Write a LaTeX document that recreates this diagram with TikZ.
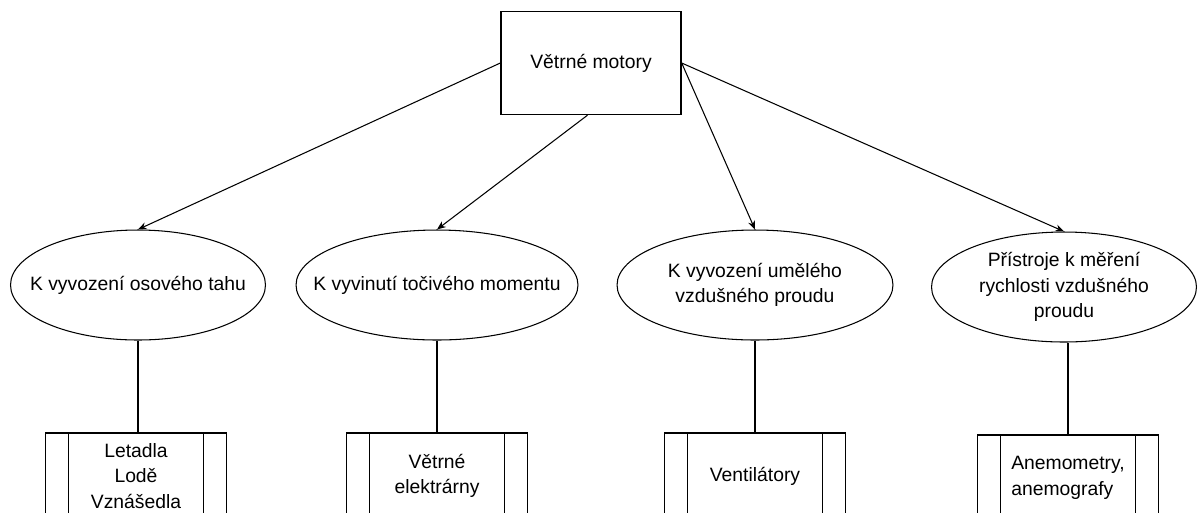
\documentclass[tikz,border=0pt]{standalone}
\usepackage{fontspec}
\setmainfont{Liberation Sans}
\usetikzlibrary{arrows.meta,shapes.geometric}

\begin{document}
\begin{tikzpicture}[
  x=0.02cm, y=-0.02cm,
  every node/.style={font=\fontsize{11}{14.5}\selectfont, align=center},
  line/.style={line width=0.6pt},
  arr/.style={line width=0.6pt, -{Stealth[length=5pt,width=4pt]}},
  topbox/.style={draw, line width=0.8pt, minimum width=3.6cm, minimum height=2.06cm},
  oval/.style={draw, ellipse, line width=0.6pt, inner xsep=-30pt, inner ysep=-8pt, minimum height=2.2cm},
  procbox/.style={draw, line width=0.8pt, minimum width=3.62cm, minimum height=1.72cm,
    path picture={
      \draw[line width=0.6pt] ([xshift=0.46cm]path picture bounding box.north west) -- ([xshift=0.46cm]path picture bounding box.south west);
      \draw[line width=0.6pt] ([xshift=-0.46cm]path picture bounding box.north east) -- ([xshift=-0.46cm]path picture bounding box.south east);
    }},
]
  \useasboundingbox (0,0) rectangle (1200,512);

  \node[topbox] (motor) at (591, 63) {Větrné motory};

  \node[oval, minimum width=5.1cm] (tah) at (138, 285) {K vyvození osového tahu};
  \node[oval, minimum width=5.64cm] (moment) at (437, 285) {K vyvinutí točivého momentu};
  \node[oval, minimum width=5.52cm] (proud) at (755, 285) {K vyvození umělého\\vzdušného proudu};
  \node[oval, minimum width=5.3cm] (mereni) at (1064, 287) {Přístroje k měření\\rychlosti vzdušného\\proudu};

  \node[procbox] (letadla) at (136, 476) {Letadla\\Lodě\\Vznášedla};
  \node[procbox] (elektrarny) at (437, 476) {Větrné\\elektrárny};
  \node[procbox] (ventilatory) at (755, 476) {Ventilátory};
  \node[procbox, align=left] (anemometry) at (1068, 478) {Anemometry,\\anemografy};

  \draw[arr] (motor.west) -- (tah.north);
  \draw[arr] ([xshift=-2]motor.south) -- (moment.north);
  \draw[arr] (motor.east) -- (proud.north);
  \draw[arr] (motor.east) -- (mereni.north);

  \draw[line] (tah.south) -- (tah.south |- letadla.north);
  \draw[line] (moment.south) -- (moment.south |- elektrarny.north);
  \draw[line] (proud.south) -- (proud.south |- ventilatory.north);
  \draw[line] (anemometry.north) -- (anemometry.north |- mereni.south);
\end{tikzpicture}
\end{document}
